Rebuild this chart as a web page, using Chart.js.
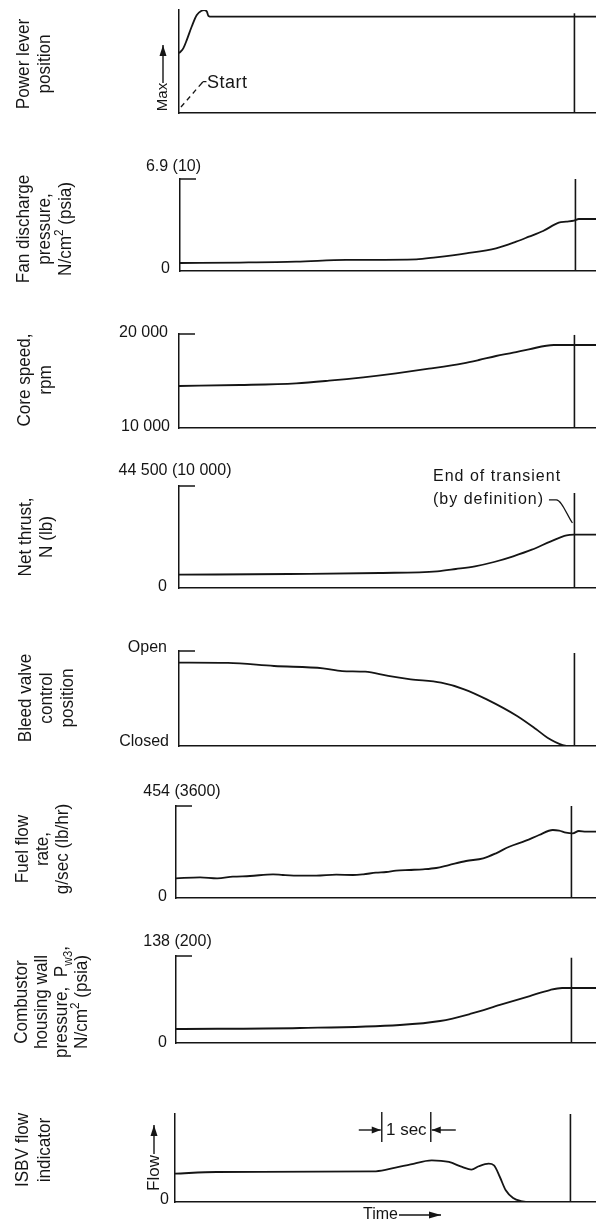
<!DOCTYPE html>
<html>
<head>
<meta charset="utf-8">
<script src="https://cdn.jsdelivr.net/npm/chart.js@4/dist/chart.umd.min.js"></script>
<style>
html, body { margin: 0; padding: 0; background: #fff; }
#wrap { position: relative; width: 596px; height: 1224px; overflow: hidden; }
#wrap canvas { position: absolute; left: 0; }
</style>
</head>
<body>
<div id="wrap"></div>
<script>
// time axis in seconds from the start of the transient
var END_T = 8.07;          // end of transient (by definition)
var SEC_START = 4.22;      // left mark of the "1 sec" bracket

var powerTime  = [0, 0.09, 0.16, 0.26, 0.36, 0.46, 0.51, 0.57, 0.60, 0.67, 8.6];
var powerLevel = [58, 63, 71, 84, 95, 99.3, 100, 98.3, 94.2, 93.5, 93.5];
var startTime  = [0.04, 0.45];
var startLevel = [5.8, 28.2];
var startHookTime  = [0.45, 0.50, 0.56];
var startHookLevel = [28.2, 30.5, 30.5];

var fanTime     = [0, 1.22, 2.37, 3.39, 4.82, 5.22, 5.84, 6.45, 6.86, 7.12, 7.41, 7.73, 7.88, 8.04, 8.14, 8.6];
var fanPressure = [0.87, 0.92, 1.01, 1.2, 1.27, 1.49, 1.92, 2.47, 3.19, 3.73, 4.35, 5.25, 5.36, 5.47, 5.65, 5.65];
var fanTicks = [10, 0];
var fanTickText = ['6.9 (10)', '0'];

var coreTime  = [0, 1.24, 2.39, 3.06, 3.76, 4.43, 5.10, 5.80, 6.12, 6.47, 6.82, 7.14, 7.65, 8.6];
var coreSpeed = [14468, 14574, 14755, 15032, 15394, 15819, 16309, 16883, 17234, 17660, 18011, 18372, 18830, 18830];
var coreTicks = [20000, 10000];
var coreTickText = ['20 000', '10 000'];

var thrustTime = [0, 2.25, 4.10, 5.27, 5.65, 6.04, 6.43, 6.82, 7.20, 7.59, 7.91, 8.06, 8.6];
var thrust     = [1304, 1373, 1471, 1637, 1863, 2127, 2549, 3108, 3755, 4578, 5167, 5225, 5225];
var thrustTicks = [10000, 0];
var thrustTickText = ['44 500 (10 000)', '0'];
var leaderTime   = [7.55, 7.70, 8.03];
var leaderThrust = [8630, 8630, 6370];

var bleedTime = [0, 1.0, 1.94, 2.94, 3.33, 3.8, 4.27, 4.73, 5.35, 5.82, 6.28, 6.9, 7.29, 7.52, 7.83, 8.0, 8.6];
var bleedOpen = [87.7, 87.4, 84.2, 81.8, 78.9, 78.2, 73.7, 70.2, 66.6, 59.7, 49.1, 31.6, 17.6, 8.7, 1.0, 0, 0];
var bleedTicks = [100, 0];
var bleedTickText = ['Open', 'Closed'];

var fuelTime = [0, 0.49, 0.84, 1.16, 1.51, 1.98, 2.18, 2.53, 2.86, 3.27, 3.61, 3.82, 4.08, 4.29, 4.49, 4.76, 5.04,
                5.31, 5.57, 5.92, 6.27, 6.53, 6.80, 7.14, 7.41, 7.69, 7.82, 7.96, 8.10, 8.22, 8.37, 8.6];
var fuelFlow = [771, 810, 771, 833, 861, 927, 900, 873, 873, 912, 900, 927, 990, 1017, 1068, 1096, 1123,
                1174, 1291, 1448, 1553, 1749, 2007, 2242, 2465, 2661, 2634, 2555, 2532, 2622, 2594, 2594];
var fuelTicks = [3600, 0];
var fuelTickText = ['454 (3600)', '0'];

var combTime     = [0, 2.53, 4.57, 5.39, 6.0, 6.61, 7.22, 7.63, 7.88, 8.6];
var combPressure = [32.2, 34.5, 41.4, 50.6, 66.7, 87.4, 108, 121.8, 126.4, 126.4];
var combTicks = [200, 0];
var combTickText = ['138 (200)', '0'];

var isbvTime = [0, 0.85, 4.10, 4.50, 4.81, 5.24, 5.59, 5.86, 6.05, 6.20, 6.40, 6.51, 6.63, 6.75, 6.90, 7.06, 7.29, 8.7];
var isbvFlow = [32.2, 34.1, 34.9, 39.0, 42.8, 47.4, 45.5, 39.8, 36.7, 40.6, 43.5, 41.7, 28.4, 13.3, 4.5, 1.1, 0, 0];
var isbvTicks = [0];
var isbvTickText = ['0'];

var INK = '#151515';
var FONT = '"Liberation Sans", Arial, sans-serif';
var SEC_PX = 49;
var SX = 0.9;

function pts(ts, vs) {
  return ts.map(function (t, i) { return {x: t, y: vs[i]}; });
}

function text(ctx, s, x, y, size, align, rot, ls) {
  ctx.save();
  ctx.font = size + 'px ' + FONT;
  ctx.fillStyle = INK;
  ctx.textBaseline = 'middle';
  ctx.textAlign = align || 'left';
  ctx.letterSpacing = (ls || 0) + 'px';
  ctx.translate(x, y);
  if (rot) ctx.rotate(-Math.PI / 2);
  ctx.fillText(s, 0, 0);
  ctx.restore();
}

function title(ctx, lines, cx, cy, lh) {
  ctx.save();
  ctx.fillStyle = INK;
  ctx.textBaseline = 'middle';
  ctx.textAlign = 'left';
  ctx.translate(cx, cy);
  ctx.rotate(-Math.PI / 2);
  lines.forEach(function (ln, i) {
    var segs = typeof ln === 'string' ? [[ln]] : ln;
    var w = 0;
    segs.forEach(function (s) {
      ctx.font = (s[1] ? 13 : 19) + 'px ' + FONT;
      w += ctx.measureText(s[0]).width * SX;
    });
    var x = -w / 2, y = (i - (lines.length - 1) / 2) * lh;
    segs.forEach(function (s) {
      ctx.font = (s[1] ? 13 : 19) + 'px ' + FONT;
      var dy = s[1] === 'sup' ? -7 : s[1] === 'sub' ? 6 : 0;
      ctx.save();
      ctx.translate(x, y + dy);
      ctx.scale(SX, 1);
      ctx.fillText(s[0], 0, 0);
      ctx.restore();
      x += ctx.measureText(s[0]).width * SX;
    });
  });
  ctx.restore();
}

function arrow(ctx, x1, y1, x2, y2, head) {
  var a = Math.atan2(y2 - y1, x2 - x1);
  ctx.save();
  ctx.strokeStyle = INK; ctx.fillStyle = INK; ctx.lineWidth = 1.4;
  ctx.beginPath(); ctx.moveTo(x1, y1); ctx.lineTo(x2, y2); ctx.stroke();
  ctx.beginPath();
  ctx.moveTo(x2, y2);
  ctx.lineTo(x2 - head * Math.cos(a) + 3.5 * Math.sin(a), y2 - head * Math.sin(a) - 3.5 * Math.cos(a));
  ctx.lineTo(x2 - head * Math.cos(a) - 3.5 * Math.sin(a), y2 - head * Math.sin(a) + 3.5 * Math.cos(a));
  ctx.closePath(); ctx.fill();
  ctx.restore();
}

function line(ctx, x1, y1, x2, y2, w) {
  ctx.save();
  ctx.strokeStyle = INK; ctx.lineWidth = w || 1.4;
  ctx.beginPath(); ctx.moveTo(x1, y1); ctx.lineTo(x2, y2); ctx.stroke();
  ctx.restore();
}

function curve(ts, vs, w, dash) {
  return {data: pts(ts, vs), borderColor: INK, borderWidth: w || 1.8, borderDash: dash || [],
          pointRadius: 0, fill: false, cubicInterpolationMode: 'monotone'};
}

// extras below use page coordinates (the canvas is shifted by its band top)
var panels = [
  {band: [0, 125], left: 179, top: 10, bottom: 113, yMin: 0, yMax: 100, endTop: 96.8,
   sets: [curve(powerTime, powerLevel), curve(startTime, startLevel, 1.3, [5, 4]), curve(startHookTime, startHookLevel, 1.3)],
   title: ['Power lever', 'position'], tx: 34.5, ty: 64, lh: 21, topTick: false,
   extra: function (ctx) {
     text(ctx, 'Max', 163, 97, 15, 'center', true);
     arrow(ctx, 163, 83, 163, 45, 11);
     text(ctx, 'Start', 207, 83, 18, 'left', false, 0.5);
   }},
  {band: [125, 290], left: 180, top: 179, bottom: 271, yMin: 0, yMax: 10, endTop: 10,
   sets: [curve(fanTime, fanPressure)],
   ticks: fanTicks, tickText: fanTickText, tickPos: [['center', -6.5, -12], ['right', -10, -2]],
   title: ['Fan discharge', 'pressure,', [['N/cm'], ['2', 'sup'], [' (psia)']]], tx: 45, ty: 229, lh: 21},
  {band: [290, 440], left: 179, top: 334, bottom: 428, yMin: 10000, yMax: 20000, endTop: 19900,
   sets: [curve(coreTime, coreSpeed)],
   ticks: coreTicks, tickText: coreTickText, tickPos: [['right', -11, -1], ['right', -9, -1]],
   title: ['Core speed,', 'rpm'], tx: 35, ty: 380, lh: 21},
  {band: [440, 600], left: 179, top: 486, bottom: 588, yMin: 0, yMax: 10000, endTop: 9314,
   sets: [curve(thrustTime, thrust), curve(leaderTime, leaderThrust, 1.2)],
   ticks: thrustTicks, tickText: thrustTickText, tickPos: [['center', -4, -15], ['right', -12, -1]],
   title: ['Net thrust,', 'N (lb)'], tx: 36, ty: 537, lh: 21,
   extra: function (ctx) {
     text(ctx, 'End of transient', 433, 477, 16, 'left', false, 1);
     text(ctx, '(by definition)', 433, 500, 16, 'left', false, 1);
   }},
  {band: [600, 760], left: 179, top: 651, bottom: 746, yMin: 0, yMax: 100, endTop: 97.9,
   sets: [curve(bleedTime, bleedOpen)],
   ticks: bleedTicks, tickText: bleedTickText, tickPos: [['right', -12, -3], ['right', -10, -4]],
   title: ['Bleed valve', 'control', 'position'], tx: 47, ty: 698, lh: 21},
  {band: [760, 912], left: 176, top: 806, bottom: 898, yMin: 0, yMax: 3600, endTop: 3600,
   sets: [curve(fuelTime, fuelFlow)],
   ticks: fuelTicks, tickText: fuelTickText, tickPos: [['center', 6, -14], ['right', -9, -1]],
   title: ['Fuel flow', 'rate,', 'g/sec (lb/hr)'], tx: 42.5, ty: 849, lh: 20},
  {band: [912, 1070], left: 176, top: 956, bottom: 1043, yMin: 0, yMax: 200, endTop: 196,
   sets: [curve(combTime, combPressure)],
   ticks: combTicks, tickText: combTickText, tickPos: [['center', 1.5, -14], ['right', -9, 0]],
   title: ['Combustor', 'housing wall', [['pressure,  P'], ['w3', 'sub'], [',']], [['N/cm'], ['2', 'sup'], [' (psia)']]],
   tx: 52, ty: 1002, lh: 20},
  {band: [1070, 1224], left: 175, top: 1114, bottom: 1202, yMin: 0, yMax: 100, endTop: 100,
   sets: [curve(isbvTime, isbvFlow)],
   ticks: isbvTicks, tickText: isbvTickText, tickPos: [['right', -6, -2]],
   title: ['ISBV flow', 'indicator'], tx: 33.5, ty: 1150, lh: 22, topTick: false,
   extra: function (ctx, c) {
     var x1 = c.scales.x.getPixelForValue(SEC_START);
     var x2 = c.scales.x.getPixelForValue(SEC_START + 1);
     var y = 1130;
     line(ctx, x1, y - 18, x1, y + 12);
     line(ctx, x2, y - 18, x2, y + 12);
     arrow(ctx, x1 - 23, y, x1 - 1, y, 9);
     arrow(ctx, x2 + 25, y, x2 + 1, y, 9);
     text(ctx, '1 sec', (x1 + x2) / 2, y, 17, 'center');
     text(ctx, 'Flow', 154, 1173, 17, 'center', true);
     arrow(ctx, 154, 1154, 154, 1125, 11);
     text(ctx, 'Time', 363, 1215, 16, 'left');
     arrow(ctx, 399, 1215, 441, 1215, 12);
   }}
];

var wrap = document.getElementById('wrap');

panels.forEach(function (p) {
  var cv = document.createElement('canvas');
  var h = p.band[1] - p.band[0];
  cv.width = 596; cv.height = h;
  cv.style.top = p.band[0] + 'px';
  cv.style.width = '596px'; cv.style.height = h + 'px';
  wrap.appendChild(cv);

  var sets = p.sets.slice();
  sets.push(curve([END_T, END_T], [p.yMin, p.endTop], 1.6));

  new Chart(cv, {
    type: 'line',
    data: {datasets: sets},
    options: {
      responsive: false, animation: false, events: [], devicePixelRatio: 1,
      layout: {padding: {left: p.left, right: 0, top: p.top - p.band[0], bottom: p.band[1] - p.bottom}},
      plugins: {legend: {display: false}, tooltip: {enabled: false}},
      scales: {
        x: {type: 'linear', min: 0, max: (596 - p.left) / SEC_PX,
            ticks: {display: false}, grid: {display: false},
            border: {display: true, color: INK, width: 1.5},
            afterFit: function (s) { s.height = 0; }},
        y: {type: 'linear', min: p.yMin, max: p.yMax,
            ticks: {display: false}, grid: {display: false},
            border: {display: true, color: INK, width: 1.5},
            afterFit: function (s) { s.width = 0; }}
      }
    },
    plugins: [{
      id: 'decor',
      afterDraw: function (c) {
        var ctx = c.ctx, a = c.chartArea, ys = c.scales.y;
        if (p.topTick !== false) line(ctx, a.left, a.top, a.left + 16, a.top, 1.5);
        (p.ticks || []).forEach(function (v, i) {
          var pos = p.tickPos[i];
          text(ctx, p.tickText[i], a.left + pos[1], ys.getPixelForValue(v) + pos[2], 16, pos[0]);
        });
        title(ctx, p.title, p.tx, p.ty - p.band[0], p.lh);
        if (p.extra) {
          ctx.save();
          ctx.translate(0, -p.band[0]);
          p.extra(ctx, c);
          ctx.restore();
        }
      }
    }]
  });
});
</script>
</body>
</html>
